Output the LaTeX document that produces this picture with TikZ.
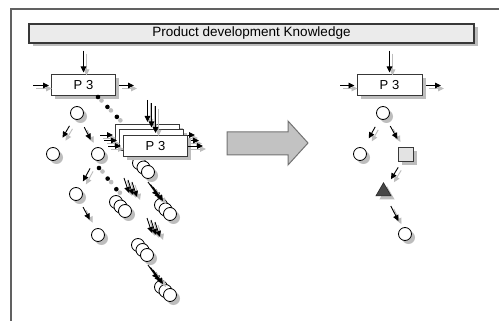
\documentclass[tikz,border=0pt]{standalone}
\usepackage{fontspec}
\setmainfont{Liberation Sans}
\usetikzlibrary{shadows,arrows.meta,shapes.geometric}

\definecolor{shadowgray}{gray}{0.74}
\definecolor{edge}{gray}{0.22}
\definecolor{barfill}{gray}{0.92}
\definecolor{boxgray}{gray}{0.89}
\definecolor{bigfill}{gray}{0.76}
\definecolor{bigedge}{gray}{0.45}

\tikzset{
  shd/.style={drop shadow={shadow xshift=3.5pt,shadow yshift=-3.5pt,fill=shadowgray,opacity=1}},
  kbar/.style={draw=edge,line width=1.1pt,fill=barfill,minimum width=445pt,minimum height=19pt,
    inner sep=0pt,shd,font=\fontsize{13.5}{14}\selectfont},
  procbox/.style={draw=edge,line width=1pt,fill=white,minimum width=64pt,minimum height=21pt,
    inner sep=0pt,shd,font=\fontsize{13}{14}\selectfont},
  state/.style={circle,draw=black,line width=0.8pt,fill=white,minimum size=13pt,inner sep=0pt,shd},
  sqnode/.style={draw=edge,line width=0.9pt,fill=boxgray,minimum size=14.5pt,inner sep=0pt,shd},
  trinode/.style={regular polygon,regular polygon sides=3,draw=black!85,line width=0.6pt,
    fill=black!72,minimum size=17.5pt,inner sep=0pt,shd},
  flowline/.style={line width=0.9pt,draw=black,-{Triangle[length=6pt,width=5.6pt]}},
  flowshadow/.style={line width=0.9pt,draw=shadowgray,-{Triangle[length=6pt,width=5.6pt]}},
  dotline/.style={line width=4.6pt,line cap=round,dash pattern=on 0pt off 13.7pt},
  bigarrow/.style={draw=bigedge,line width=1pt,fill=bigfill,line join=miter},
  frameline/.style={draw=black!62,line width=1.2pt}
}

% an arrow together with its offset grey shadow
\newcommand\flow[3][]{%
  \draw[flowshadow,#1,transform canvas={shift={(3pt,-3pt)}}] #2 -- #3;
  \draw[flowline,#1] #2 -- #3;}
% a dotted link together with its shadow
\newcommand\dotlink[2]{%
  \draw[dotline,draw=shadowgray,transform canvas={shift={(3.5pt,-3.5pt)}}] #1 -- #2;
  \draw[dotline,draw=black] #1 -- #2;}

\begin{document}
\begin{tikzpicture}[x=1pt,y=-1pt]
\useasboundingbox (0,0) rectangle (499,321);
\fill[white] (0,0) rectangle (499,321);

% frame
\draw[frameline] (499,9) -- (11,9) -- (11,321);

% knowledge bar
\node[kbar] (kb) at (251.5,33.5) {Product development Knowledge};

% ---------- left: before ----------
\node[procbox] (p3L) at (83.5,85.5) {P 3};
\coordinate (inL) at (33,85.5);
\coordinate (outL) at (134,85.5);
\flow[shorten <=7pt,shorten >=2pt]{(kb.south -| p3L.north)}{(p3L.north)}
\flow[shorten >=2pt]{(inL)}{(p3L.west)}
\flow[shorten <=3pt]{(p3L.east)}{(outL)}

\node[state] (rootL) at (77,113) {};
\node[state] (lcL) at (53,154) {};
\node[state] (rcL) at (98,154) {};
\node[state] (mcL) at (76,194) {};
\node[state] (bcL) at (98,235) {};
\flow[shorten <=8pt,shorten >=12pt]{(rootL)}{(lcL)}
\flow[shorten <=9pt,shorten >=9pt]{(rootL)}{(rcL)}
\flow[shorten <=9.5pt,shorten >=7.5pt]{(rcL)}{(mcL)}
\flow[shorten <=8pt,shorten >=10.5pt]{(mcL)}{(bcL)}

% dotted links to the repeated steps
\coordinate (da) at (98,97);
\coordinate (db) at (117,117);
\dotlink{(da)}{(db)}
\coordinate (dc) at (99,168);
\coordinate (dd) at (117,190);
\dotlink{(dc)}{(dd)}

% stacks of repeated states
\foreach \n/\x/\y in {s1a/139/163,s1b/143.5/167.5,s1c/148/172,
                      s2a/161/205,s2b/165.5/209.5,s2c/170/214,
                      s3a/116/202,s3b/120.5/206.5,s3c/125/211,
                      s4a/138/245,s4b/142.5/250,s4c/147/255,
                      s5a/161/287,s5b/165.5/291,s5c/170/295}
  \node[state] (\n) at (\x,\y) {};

% stacked repeated process boxes with their outputs
\node[procbox] (pb1) at (147.5,135) {};
\coordinate (pc1) at (195,135);
\flow{(pb1.east)}{(pc1)}
\node[procbox] (pb2) at (151.5,140.5) {};
\coordinate (pc2) at (199,140.5);
\flow{(pb2.east)}{(pc2)}
\node[procbox] (pb3) at (155.5,146) {P 3};
\coordinate (pc3) at (203,146);
\flow{(pb3.east)}{(pc3)}

% knowledge inputs from above
\coordinate (pa1) at (147.5,100);
\coordinate (pa2) at (151.5,103);
\coordinate (pa3) at (155.5,106);
\flow[shorten >=2pt]{(pa1)}{(pb1.north)}
\flow[shorten >=2pt]{(pa2)}{(pb2.north)}
\flow[shorten >=2pt]{(pa3)}{(pb3.north)}

% inputs from the left
\coordinate (pi1) at (100,135);
\coordinate (pi2) at (104,140.5);
\coordinate (pi3) at (108,146);
\flow[shorten >=2pt]{(pi1)}{(pb1.west)}
\flow[shorten >=2pt]{(pi2)}{(pb2.west)}
\flow[shorten >=2pt]{(pi3)}{(pb3.west)}

% bundles of transitions between the stacks
\foreach \i/\sx/\sy/\ex/\ey in {d1/124/178/129/193,d2/128/180/133/195,d3/132/182/137/197,
                               e1/148/182/158/196,e2/150.5/184.5/160.5/198.5,e3/153/187/163/201,
                               f1/147/218/152/233,f2/151/220/156/235,f3/155/222/160/237,
                               g1/148/265/158/279,g2/150.5/267.5/160.5/281.5,g3/153/270/163/284}{
  \coordinate (\i s) at (\sx,\sy);
  \coordinate (\i e) at (\ex,\ey);
  \flow{(\i s)}{(\i e)}
}

% ---------- transition arrow ----------
\draw[bigarrow] (227,132) -- (288,132) -- (288,121) -- (308,143)
  -- (288,165) -- (288,155) -- (227,155) -- cycle;

% ---------- right: after ----------
\node[procbox,minimum width=65pt] (p3R) at (389.5,85.5) {P 3};
\coordinate (inR) at (340,85.5);
\coordinate (outR) at (441,85.5);
\flow[shorten <=7pt,shorten >=2pt]{(kb.south -| p3R.north)}{(p3R.north)}
\flow[shorten >=2pt]{(inR)}{(p3R.west)}
\flow[shorten <=3pt]{(p3R.east)}{(outR)}

\node[state] (rootR) at (383,113) {};
\node[state] (lR) at (360,154) {};
\node[sqnode] (sqR) at (406,154.5) {};
\node[trinode] (triR) at (383.5,191.5) {};
\node[state] (botR) at (405,234) {};
\flow[shorten <=9pt,shorten >=11pt]{(rootR)}{(lR)}
\flow[shorten <=8pt,shorten >=9pt]{(rootR)}{(sqR)}
\flow[shorten <=6pt,shorten >=9pt]{(sqR)}{(triR)}
\flow[shorten <=11pt,shorten >=7.5pt]{(triR)}{(botR)}
\end{tikzpicture}
\end{document}
